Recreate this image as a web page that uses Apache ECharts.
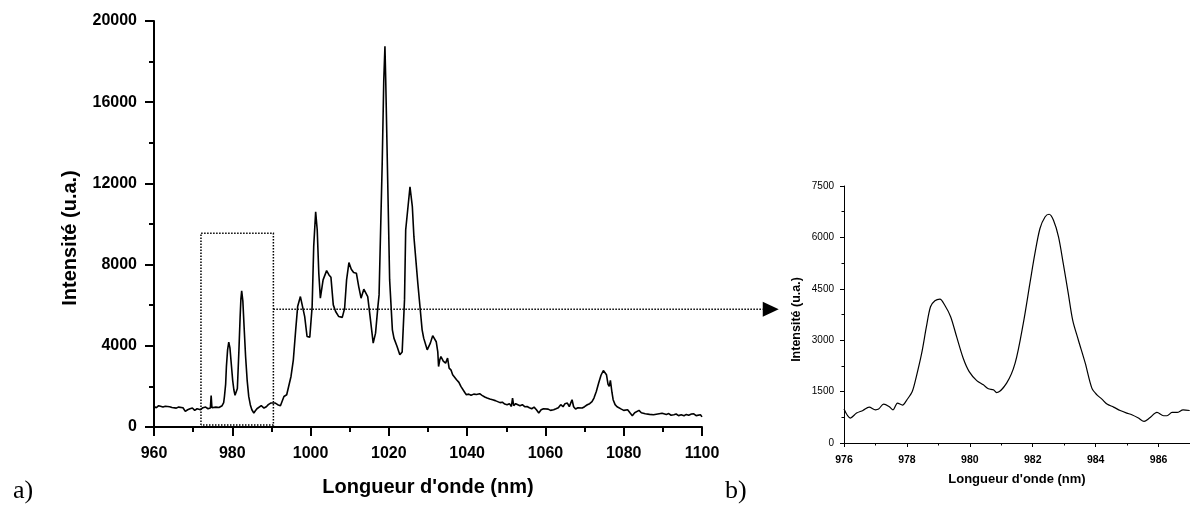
<!DOCTYPE html>
<html>
<head>
<meta charset="utf-8">
<script src="https://cdn.jsdelivr.net/npm/echarts@6/dist/echarts.min.js"></script>
<style>
  html, body { margin: 0; padding: 0; background: #fff; }
  #chart { width: 1190px; height: 510px; }
</style>
</head>
<body>
<div id="chart"></div>
<script>
// Full emission spectrum (wavelength in nm, intensity in arbitrary units)
const spectrumNm = [
  960.0, 960.6, 961.2, 961.7, 962.3, 962.9, 963.4, 964.0, 964.6, 965.1, 965.7, 966.3, 966.8, 967.4, 968.0,
  968.6, 969.2, 969.8, 970.4, 971.0, 971.5, 971.9, 972.5, 973.2, 973.8, 974.4, 974.6, 974.8, 975.3, 975.8,
  976.1, 976.6, 977.0, 977.4, 977.8, 978.0, 978.3, 978.5, 978.8, 979.1, 979.4, 979.8, 980.1, 980.4, 980.7,
  981.0, 981.3, 981.7, 982.0, 982.2, 982.4, 982.7, 983.0, 983.4, 983.8, 984.2, 984.6, 985.0, 985.5, 985.9,
  986.3, 986.8, 987.4, 988.1, 988.7, 989.2, 989.8, 990.3, 991.0, 991.6, 992.3, 992.8, 993.2, 993.9, 994.4,
  995.0, 995.6, 996.2, 996.7, 997.4, 997.9, 998.5, 999.1, 999.8, 1000.4, 1000.8, 1001.3, 1001.7, 1002.1, 1002.5,
  1003.2, 1004.1, 1004.7, 1005.2, 1005.8, 1006.4, 1007.2, 1008.1, 1008.7, 1009.2, 1009.8, 1010.4, 1011.0, 1011.7, 1012.3,
  1012.9, 1013.6, 1014.6, 1015.1, 1016.0, 1016.6, 1017.2, 1017.5, 1018.3, 1018.7, 1019.0, 1019.2, 1019.7, 1020.2, 1020.9,
  1021.3, 1022.1, 1022.8, 1023.4, 1024.0, 1024.3, 1025.4, 1026.0, 1026.4, 1027.4, 1028.5, 1028.9, 1029.8, 1030.6, 1031.2,
  1031.6, 1032.1, 1032.5, 1032.7, 1033.0, 1033.3, 1033.9, 1034.5, 1035.0, 1035.4, 1035.9, 1036.3, 1036.8, 1037.3, 1037.9,
  1038.4, 1038.9, 1039.4, 1039.8, 1040.4, 1041.0, 1041.7, 1042.4, 1043.2, 1043.8, 1044.5, 1045.1, 1045.8, 1046.5, 1047.2,
  1047.7, 1048.4, 1049.0, 1049.6, 1050.2, 1050.8, 1051.3, 1051.6, 1051.9, 1052.4, 1052.9, 1053.5, 1054.1, 1054.7, 1055.3,
  1055.9, 1056.5, 1057.1, 1057.7, 1058.3, 1058.9, 1059.5, 1060.0, 1060.7, 1061.3, 1062.1, 1062.7, 1063.3, 1063.9, 1064.5,
  1065.0, 1065.6, 1066.1, 1066.5, 1066.8, 1067.2, 1067.7, 1068.3, 1068.8, 1069.4, 1070.0, 1070.7, 1071.3, 1071.9, 1072.4,
  1073.0, 1073.6, 1074.2, 1074.8, 1075.2, 1075.6, 1076.0, 1076.3, 1076.6, 1077.0, 1077.3, 1077.8, 1078.3, 1078.8, 1079.4,
  1080.0, 1080.5, 1081.0, 1081.6, 1082.2, 1082.8, 1083.3, 1083.9, 1084.5, 1085.0, 1085.5, 1086.0, 1086.6, 1087.1, 1087.6,
  1088.1, 1088.7, 1089.2, 1089.8, 1090.3, 1090.9, 1091.5, 1092.1, 1092.8, 1093.4, 1094.0, 1094.7, 1095.4, 1096.0, 1096.6,
  1097.3, 1097.9, 1098.5, 1099.0, 1099.6, 1100.0
];
const spectrumIntensity = [
  1013, 950, 1050, 1097, 980, 1020, 935, 1000, 960, 1050, 930, 980, 885, 950, 767,
  850, 900, 935, 820, 900, 870, 851, 950, 983, 900, 935, 1555, 950, 900, 980,
  885, 960, 1000, 1048, 1200, 1505, 2100, 2981, 3800, 4181, 3900, 2981, 2300, 1835, 1560,
  1476, 1900, 3802, 5400, 6300, 6705, 6200, 5000, 3473, 2300, 1505, 1100, 850, 689, 800,
  900, 983, 1050, 935, 1000, 1100, 1180, 1250, 1180, 1100, 1048, 1050, 1505, 1590, 1997,
  2490, 3311, 4786, 5932, 6425, 6345, 5440, 4457, 4427, 5932, 8884, 10606, 9705, 7575, 6345,
  7246, 7703, 7492, 7380, 6016, 5690, 5440, 5400, 5853, 7246, 8097, 7772, 7610, 7575, 6916,
  6345, 6788, 6425, 5608, 4132, 4624, 5932, 6508, 12986, 17084, 18756, 17084, 12165, 7246, 4786,
  4378, 3965, 3556, 3700, 6262, 9705, 11836, 10852, 9376, 7083, 4786, 4378, 3802, 4132, 4500,
  4540, 4200, 3700, 2981, 3300, 3473, 3250, 3148, 3394, 2900, 2800, 2573, 2650, 2327, 2200,
  2000, 1918, 1700, 1589, 1620, 1560, 1620, 1600, 1640, 1560, 1480, 1426, 1380, 1340, 1300,
  1259, 1200, 1220, 1130, 1097, 1150, 1013, 1426, 1050, 1150, 1097, 1050, 1100, 1000, 1013,
  950, 900, 980, 850, 689, 850, 900, 935, 880, 820, 851, 900, 950, 1097, 1000,
  1150, 1180, 1000, 1200, 1343, 1000, 885, 950, 900, 935, 1000, 1097, 1150, 1250, 1426,
  1750, 2164, 2550, 2784, 2700, 2573, 2100, 1997, 2292, 1700, 1343, 1100, 1000, 935, 880,
  820, 767, 850, 700, 556, 700, 650, 817, 700, 780, 650, 689, 620, 700, 600,
  521, 640, 600, 680, 650, 620, 660, 580, 606, 640, 560, 600, 556, 620, 580,
  640, 650, 560, 620, 606, 500
];

// Detail of the 976-987 nm doublet
const zoomNm = [
  976.0, 976.2, 976.4, 976.6, 976.8, 977.0, 977.1, 977.26, 977.43, 977.56, 977.7, 977.86, 978.0, 978.17, 978.3,
  978.47, 978.62, 978.75, 978.89, 979.05, 979.2, 979.39, 979.58, 979.79, 979.98, 980.22, 980.43, 980.59, 980.75, 980.85,
  981.17, 981.44, 981.7, 981.91, 982.07, 982.23, 982.39, 982.52, 982.66, 982.82, 982.97, 983.13, 983.27, 983.45, 983.67,
  983.88, 984.04, 984.2, 984.36, 984.57, 984.78, 984.99, 985.15, 985.36, 985.54, 985.71, 985.95, 986.16, 986.27, 986.43,
  986.59, 986.78, 986.99
];
const zoomIntensity = [
  990, 728, 873, 949, 1048, 969, 990, 1135, 1066, 969, 1164, 1106, 1260, 1502, 1939,
  2620, 3394, 3976, 4151, 4200, 4026, 3686, 3103, 2474, 2084, 1822, 1697, 1581, 1552, 1473,
  1747, 2329, 3493, 4658, 5531, 6259, 6596, 6675, 6500, 6014, 5240, 4367, 3589, 3007, 2329,
  1601, 1406, 1281, 1135, 1048, 949, 873, 824, 728, 629, 728, 891, 795, 795, 891,
  891, 969, 949
];

// Axis ranges and tick steps
const mainX = { min: 960, max: 1100, step: 20 };
const mainY = { min: 0, max: 20000, step: 4000 };
const detailX = { min: 976, max: 987, step: 2 };
const detailXMinorStep = 1;
const detailY = { min: 0, max: 7500, step: 1500 };

// Selected window on the full spectrum and the level of the pointer towards the detail
const windowNm = [972, 990.5];
const windowIntensity = [100, 9550];
const pointerLevel = 5800;
const pointerEndNm = 1119.6;

const SANS = '"Liberation Sans", Arial, sans-serif';
const SERIF = '"Liberation Serif", "Times New Roman", serif';

const zip = (xs, ys) => xs.map((x, i) => [x, ys[i]]);
const plain = v => String(v);

const chart = echarts.init(document.getElementById('chart'), null, { renderer: 'canvas' });

function mainAxis(range, extra) {
  return Object.assign({
    type: 'value',
    min: range.min, max: range.max, interval: range.step,
    splitLine: { show: false },
    axisLine: { show: true, lineStyle: { color: '#000', width: 2 } },
    axisTick: { show: true, length: 9, lineStyle: { color: '#000', width: 2 } },
    minorTick: { show: true, splitNumber: 2, length: 5, lineStyle: { color: '#000', width: 2 } },
    nameLocation: 'middle'
  }, extra);
}

function detailAxis(range, extra) {
  return Object.assign({
    type: 'value',
    min: range.min, max: range.max, interval: range.step,
    splitLine: { show: false },
    axisLine: { show: true, lineStyle: { color: '#000', width: 1 } },
    axisTick: { show: true, length: 4, lineStyle: { color: '#000', width: 1 } },
    minorTick: { show: true, splitNumber: 2, length: 2.5, lineStyle: { color: '#000', width: 1 } },
    nameLocation: 'middle'
  }, extra);
}

// Dotted frame around the selected window and the arrow leading to the detail panel
function renderPointer(params, api) {
  const p00 = api.coord([windowNm[0], windowIntensity[0]]);
  const p01 = api.coord([windowNm[0], windowIntensity[1]]);
  const p11 = api.coord([windowNm[1], windowIntensity[1]]);
  const p10 = api.coord([windowNm[1], windowIntensity[0]]);
  const a0 = api.coord([windowNm[1], pointerLevel]);
  const a1 = api.coord([pointerEndNm, pointerLevel]);
  const headLen = 16, headHalf = 7.5;
  const dotted = { stroke: '#000', lineWidth: 1.5, lineDash: [1.5, 1.5], fill: null };
  return {
    type: 'group',
    children: [
      { type: 'polyline', shape: { points: [p00, p01, p11, p10, p00] }, style: dotted },
      { type: 'line', shape: { x1: a0[0], y1: a0[1], x2: a1[0] - headLen, y2: a1[1] }, style: dotted },
      {
        type: 'polygon',
        shape: { points: [[a1[0], a1[1]], [a1[0] - headLen, a1[1] - headHalf], [a1[0] - headLen, a1[1] + headHalf]] },
        style: { fill: '#000', stroke: null }
      }
    ]
  };
}

chart.setOption({
  animation: false,
  backgroundColor: '#fff',
  grid: [
    { left: 154, top: 21, width: 548, height: 406 },
    { left: 844, top: 186, right: 0, height: 257 }
  ],
  xAxis: [
    mainAxis(mainX, {
      gridIndex: 0,
      name: "Longueur d'onde (nm)",
      nameGap: 50,
      nameTextStyle: { color: '#000', fontFamily: SANS, fontWeight: 'bold', fontSize: 20 },
      axisLabel: { color: '#000', fontFamily: SANS, fontWeight: 'bold', fontSize: 16, margin: 19, formatter: plain }
    }),
    detailAxis(detailX, {
      gridIndex: 1,
      position: 'bottom',
      name: "Longueur d'onde (nm)",
      nameGap: 30,
      nameTextStyle: { color: '#000', fontFamily: SANS, fontWeight: 'bold', fontSize: 13 },
      minorTick: { show: false },
      axisLabel: { color: '#000', fontFamily: SANS, fontWeight: 'bold', fontSize: 10.5, margin: 12, showMaxLabel: false, formatter: plain }
    }),
    // unit-step ticks of the detail panel (odd wavelengths appear as short ticks)
    detailAxis({ min: detailX.min, max: detailX.max, step: detailXMinorStep }, {
      gridIndex: 1,
      position: 'bottom',
      axisLine: { show: false },
      axisTick: { show: true, length: 2.5, lineStyle: { color: '#000', width: 1 } },
      minorTick: { show: false },
      axisLabel: { show: false }
    })
  ],
  yAxis: [
    mainAxis(mainY, {
      gridIndex: 0,
      name: 'Intensité (u.a.)',
      nameGap: 74,
      nameTextStyle: { color: '#000', fontFamily: SANS, fontWeight: 'bold', fontSize: 20, padding: [0, 28, 0, 0] },
      axisLabel: { color: '#000', fontFamily: SANS, fontWeight: 'bold', fontSize: 16, margin: 17, formatter: plain }
    }),
    detailAxis(detailY, {
      gridIndex: 1,
      name: 'Intensité (u.a.)',
      nameGap: 41,
      nameTextStyle: { color: '#000', fontFamily: SANS, fontWeight: 'bold', fontSize: 12.5, padding: [0, 10, 0, 0] },
      axisLabel: { color: '#000', fontFamily: SANS, fontWeight: 'normal', fontSize: 10, margin: 10, formatter: plain }
    })
  ],
  series: [
    {
      type: 'line', xAxisIndex: 0, yAxisIndex: 0,
      data: zip(spectrumNm, spectrumIntensity),
      showSymbol: false, symbol: 'none',
      lineStyle: { color: '#000', width: 1.6 },
      silent: true
    },
    {
      type: 'line', xAxisIndex: 1, yAxisIndex: 1,
      data: zip(zoomNm, zoomIntensity),
      showSymbol: false, symbol: 'none', smooth: 0.3,
      lineStyle: { color: '#000', width: 1.2 },
      silent: true
    },
    {
      type: 'custom', xAxisIndex: 0, yAxisIndex: 0,
      coordinateSystem: 'cartesian2d',
      clip: false, silent: true, z: 1,
      data: [[windowNm[0], windowIntensity[0]]],
      renderItem: renderPointer
    }
  ],
  graphic: [
    { type: 'text', left: 13, top: 478, style: { text: 'a)', fill: '#000', font: '26px ' + SERIF } },
    { type: 'text', left: 725, top: 478, style: { text: 'b)', fill: '#000', font: '26px ' + SERIF } }
  ]
});
</script>
</body>
</html>
